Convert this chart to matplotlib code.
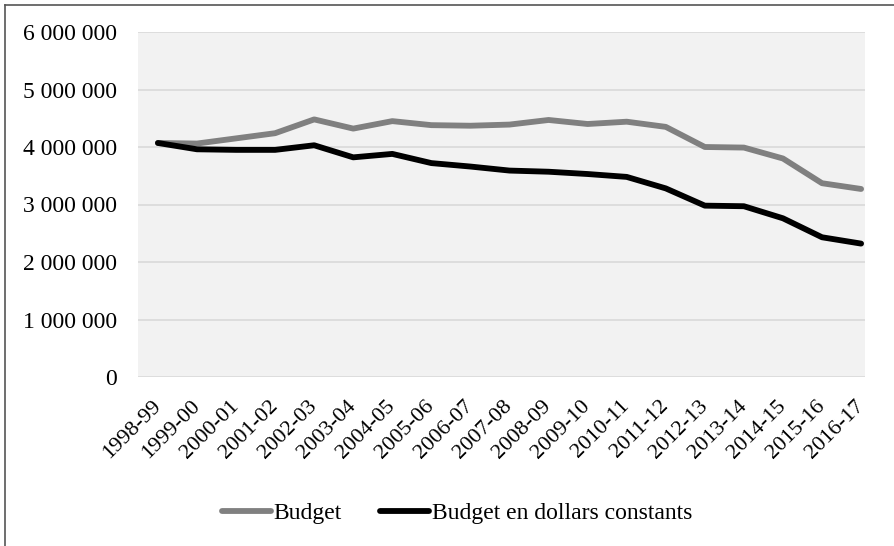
import matplotlib.pyplot as plt
from matplotlib.lines import Line2D
from matplotlib.ticker import FuncFormatter

YEARS = ["1998-99", "1999-00", "2000-01", "2001-02", "2002-03", "2003-04",
         "2004-05", "2005-06", "2006-07", "2007-08", "2008-09", "2009-10",
         "2010-11", "2011-12", "2012-13", "2013-14", "2014-15", "2015-16",
         "2016-17"]

BUDGET = [4.07, 4.06, 4.15, 4.24, 4.48, 4.32, 4.45, 4.38, 4.37, 4.39,
          4.47, 4.40, 4.44, 4.35, 4.00, 3.99, 3.80, 3.37, 3.27]
BUDGET_CONST = [4.07, 3.96, 3.95, 3.95, 4.03, 3.82, 3.88, 3.72, 3.66, 3.59,
                3.57, 3.53, 3.48, 3.28, 2.98, 2.97, 2.76, 2.43, 2.32]

BUDGET = [v * 1e6 for v in BUDGET]
BUDGET_CONST = [v * 1e6 for v in BUDGET_CONST]

plt.rcParams['font.family'] = ['Liberation Serif', 'DejaVu Serif']

W, H = 895, 546
fig = plt.figure(figsize=(W / 100, H / 100), dpi=100)
ax = fig.add_axes([138 / W, 1 - 377 / H, (865 - 138) / W, (377 - 32) / H])
ax.set_facecolor("#f2f2f2")

x = list(range(len(YEARS)))
ax.plot(x, BUDGET, c="#808080", lw=4.2, solid_capstyle='round',
        solid_joinstyle='round', label="Budget", zorder=3)
ax.plot(x, BUDGET_CONST, c="black", lw=4.2, solid_capstyle='round',
        solid_joinstyle='round', label="Budget en dollars constants", zorder=4)

ax.set_ylim(0, 6e6)
ax.set_xlim(-0.51, 18.1)
ax.set_yticks([i * 1e6 for i in range(7)])
ax.yaxis.set_major_formatter(FuncFormatter(lambda v, p: f"{int(v):,}".replace(",", " ")))
ax.set_xticks(x)
ax.set_xticklabels(YEARS, rotation=45, ha='right', va='center',
                   rotation_mode='anchor', fontsize=16)
ax.tick_params(axis='y', length=0, pad=15, labelsize=17)
ax.tick_params(axis='x', length=0, pad=19)
ax.grid(axis='y', color="#d9d9d9", lw=1.2)
ax.set_axisbelow(True)
for s in ax.spines.values():
    s.set_visible(False)

leg = ax.legend(loc='center', bbox_to_anchor=(457 / W, 1 - 513 / H),
                bbox_transform=fig.transFigure, ncol=2, frameon=False,
                fontsize=17, handlelength=2.1, handletextpad=0.1,
                columnspacing=1.6)

# outer frame (top and left edges visible)
fig.add_artist(Line2D([5 / W, 1], [1 - 5 / H, 1 - 5 / H], color="#555555", lw=1.2,
                      transform=fig.transFigure))
fig.add_artist(Line2D([5 / W, 5 / W], [0, 1 - 5 / H], color="#555555", lw=1.2,
                      transform=fig.transFigure))

fig.savefig("out.png", dpi=100)
